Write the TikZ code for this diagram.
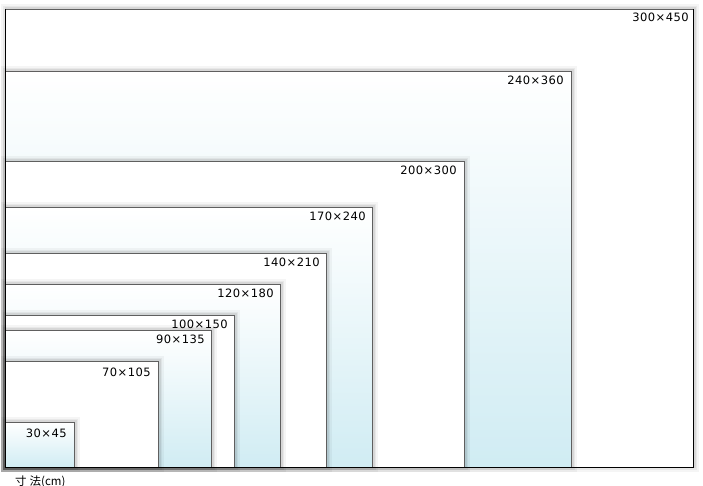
\documentclass[tikz,border=0pt]{standalone}
\usepackage{fontspec}
\newfontfamily\sizefont[LetterSpace=4]{DejaVu Sans}
\newfontfamily\jpfont{Noto Sans CJK JP}
\usepackage{tikz}
\usetikzlibrary{positioning}
\definecolor{paleblue}{RGB}{208,236,243}
\definecolor{edgegray}{RGB}{95,95,95}
\tikzset {
    softshadow/.style = {
        preaction = {draw=black, draw opacity=0.04, line width=10pt,
                     transform canvas={shift={(1pt,1pt)}}},
        preaction = {draw=black, draw opacity=0.05, line width=6pt,
                     transform canvas={shift={(1pt,1pt)}}},
        preaction = {draw=black, draw opacity=0.07, line width=3pt,
                     transform canvas={shift={(1pt,1pt)}}}
    },
    frame/.style = {
        softshadow,
        draw = edgegray,
        line width = 0.9pt,
        inner sep = 0pt,
        anchor = south west
    },
    plain/.style = {
        frame,
        fill = white
    },
    tinted/.style = {
        frame,
        top color = white,
        bottom color = paleblue
    },
    sizelabel/.style = {
        anchor = north east,
        inner sep = 0pt,
        font = {\sizefont\fontsize{11.5}{12}\selectfont}
    },
    edge/.style = {
        draw = black,
        line width = 1pt
    }
}

\begin{document}
\begin{tikzpicture}[x=1pt, y=1pt]
        \useasboundingbox (0, 0) rectangle (703, 486);
        \fill [white] (0, 0) rectangle (703, 486);

        % Common corner of all frames (bottom left)
        \coordinate (base) at (5, 18);

        % Frames, largest first so that the smaller ones lie on top
        \node [plain,  minimum width=688pt, minimum height=458pt] at (base) (f300) {};
        \node [tinted, minimum width=566pt, minimum height=396pt] at (base) (f240) {};
        \node [plain,  minimum width=459pt, minimum height=306pt] at (base) (f200) {};
        \node [tinted, minimum width=367pt, minimum height=260pt] at (base) (f170) {};
        \node [plain,  minimum width=321pt, minimum height=214pt] at (base) (f140) {};
        \node [tinted, minimum width=275pt, minimum height=183pt] at (base) (f120) {};
        \node [plain,  minimum width=229pt, minimum height=152pt] at (base) (f100) {};
        \node [tinted, minimum width=206pt, minimum height=137pt] at (base) (f90)  {};
        \node [plain,  minimum width=153pt, minimum height=106pt] at (base) (f70)  {};
        \node [tinted, minimum width=69pt,  minimum height=45pt]  at (base) (f30)  {};

        % Size labels, top right inside each frame
        \node [sizelabel, below left=4pt and 5pt of f300.north east] (l300) {300×450};
        \node [sizelabel, below left=5pt and 8pt of f240.north east] (l240) {240×360};
        \node [sizelabel, below left=5pt and 8pt of f200.north east] (l200) {200×300};
        \node [sizelabel, below left=5pt and 7pt of f170.north east] (l170) {170×240};
        \node [sizelabel, below left=5pt and 7pt of f140.north east] (l140) {140×210};
        \node [sizelabel, below left=5pt and 7pt of f120.north east] (l120) {120×180};
        \node [sizelabel, below left=5pt and 7pt of f100.north east] (l100) {100×150};
        \node [sizelabel, below left=5pt and 7pt of f90.north east]  (l90)  {90×135};
        \node [sizelabel, below left=7pt and 8pt of f70.north east]  (l70)  {70×105};
        \node [sizelabel, below left=7pt and 8pt of f30.north east]  (l30)  {30×45};

        % Left and bottom edges in black
        \path [edge] (f300.north west) -- (f300.south west) -- (f300.south east) -- (f300.north east);

        % Unit caption
        \node [anchor=north west, inner sep=0pt, font={\jpfont\fontsize{11.5}{12}\selectfont},
               below right=8pt and 10pt of f300.south west] (unit) {寸\hspace{3pt}法(cm)};
\end{tikzpicture}
\end{document}
